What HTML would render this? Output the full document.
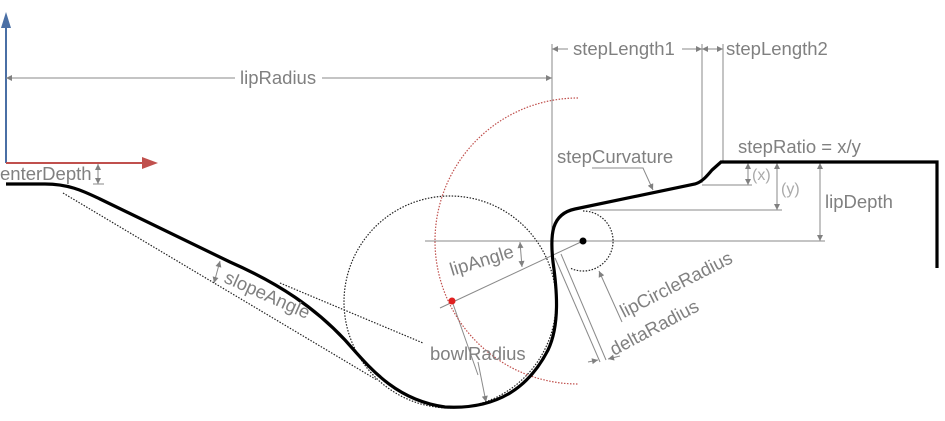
<!DOCTYPE html>
<html><head><meta charset="utf-8"><style>
html,body{margin:0;padding:0;background:#fff}
svg{display:block}
text{font-family:"Liberation Sans",sans-serif;fill:#808080;font-size:18.5px}
</style></head><body>
<svg width="945" height="421" viewBox="0 0 945 421" xmlns="http://www.w3.org/2000/svg">
<defs>
<marker id="ag" viewBox="0 0 10 10" refX="10" refY="5" markerWidth="7" markerHeight="6" orient="auto-start-reverse" markerUnits="userSpaceOnUse"><path d="M0,0 L10,5 L0,10 z" fill="#808080"/></marker>
</defs>
<line x1="6" y1="163" x2="6" y2="26" stroke="#4a6fa5" stroke-width="2"/>
<path d="M1,28 L6,12 L11,28 z" fill="#4a6fa5"/>
<line x1="6" y1="163" x2="144" y2="163" stroke="#c0504d" stroke-width="2"/>
<path d="M142,157 L158,163 L142,169 z" fill="#c0504d"/>

<g stroke="#8a8a8a" stroke-width="1" fill="none">
<line x1="552" y1="44" x2="552" y2="241"/>
<line x1="702" y1="44" x2="702" y2="183"/>
<line x1="723" y1="44" x2="723" y2="162"/>
<line x1="425" y1="241" x2="825" y2="241"/>
<line x1="702" y1="185" x2="752" y2="185"/>
<line x1="590" y1="210" x2="782" y2="210"/>
<line x1="93" y1="184" x2="104" y2="184"/>
<line x1="6" y1="78" x2="235" y2="78" marker-start="url(#ag)"/>
<line x1="322" y1="78" x2="552" y2="78" marker-end="url(#ag)"/>
<line x1="552" y1="49" x2="568" y2="49" marker-start="url(#ag)"/>
<line x1="682" y1="49" x2="702" y2="49" marker-end="url(#ag)"/>
<line x1="702" y1="49" x2="723" y2="49" marker-start="url(#ag)" marker-end="url(#ag)"/>
<line x1="98" y1="164" x2="98" y2="184" marker-start="url(#ag)" marker-end="url(#ag)"/>
<line x1="748" y1="163" x2="748" y2="185" marker-start="url(#ag)" marker-end="url(#ag)"/>
<line x1="777" y1="163" x2="777" y2="210" marker-start="url(#ag)" marker-end="url(#ag)"/>
<line x1="820" y1="163" x2="820" y2="241" marker-start="url(#ag)" marker-end="url(#ag)"/>
<line x1="520" y1="242" x2="522" y2="267" marker-start="url(#ag)" marker-end="url(#ag)"/>
<line x1="220" y1="261" x2="214" y2="283" marker-start="url(#ag)" marker-end="url(#ag)"/>
<line x1="440" y1="308" x2="583" y2="241"/>
<line x1="452" y1="301" x2="478" y2="375"/>
<line x1="478" y1="362" x2="486" y2="402" marker-end="url(#ag)"/>
<polyline points="592,168 643,168 653,190" marker-end="url(#ag)"/>
<line x1="622" y1="322" x2="599" y2="271" marker-end="url(#ag)"/>
<line x1="555" y1="258" x2="600" y2="362"/>
<line x1="561" y1="254" x2="606" y2="360"/>
<line x1="588" y1="362" x2="598" y2="360" marker-end="url(#ag)"/>
<line x1="620" y1="356" x2="608" y2="359" marker-end="url(#ag)"/>
</g>

<g stroke="#222" stroke-width="1.2" fill="none" stroke-dasharray="1.5,1.5">
<circle cx="450" cy="302" r="106"/>
<path d="M 583 211 A 30 30 0 1 1 570 268"/>
<line x1="63" y1="193" x2="377" y2="380"/>
<line x1="280" y1="283" x2="423" y2="343"/>
</g>
<path d="M 578 98 A 143 143 0 0 0 578 384" stroke="#c0504d" stroke-width="1.2" fill="none" stroke-dasharray="1.5,1.5"/>
<circle cx="452" cy="301" r="3.5" fill="#e02020"/>
<circle cx="583" cy="241" r="3.5" fill="#000"/>

<path d="M6,184 L45,184 C70,184 85,192 100,199 L230,262 C280,284 315,308 345,340 C370,368 395,400 445,407 C500,410 530,385 548,350 C560,325 557,290 553,262 C550,235 551,214 575,209 L695,184 C702,182 707,176 712,170 L721,162 L937,162 L937,268" stroke="#000" stroke-width="3.2" fill="none" stroke-linejoin="miter"/>

<text x="0" y="180">enterDepth</text>
<text x="240" y="84">lipRadius</text>
<text x="573" y="55">stepLength1</text>
<text x="726" y="55">stepLength2</text>
<text x="738" y="153">stepRatio = x/y</text>
<text x="557" y="163">stepCurvature</text>
<text x="752" y="180" style="fill:#aaa;font-size:16px">(x)</text>
<text x="781" y="194" style="fill:#aaa;font-size:16px">(y)</text>
<text x="825" y="208">lipDepth</text>
<text x="430" y="360">bowlRadius</text>
<text transform="translate(452,276) rotate(-17)">lipAngle</text>
<text transform="translate(223,282) rotate(24)">slopeAngle</text>
<text transform="translate(624,318) rotate(-27)">lipCircleRadius</text>
<text transform="translate(614,356) rotate(-28)">deltaRadius</text>
</svg>
</body></html>
